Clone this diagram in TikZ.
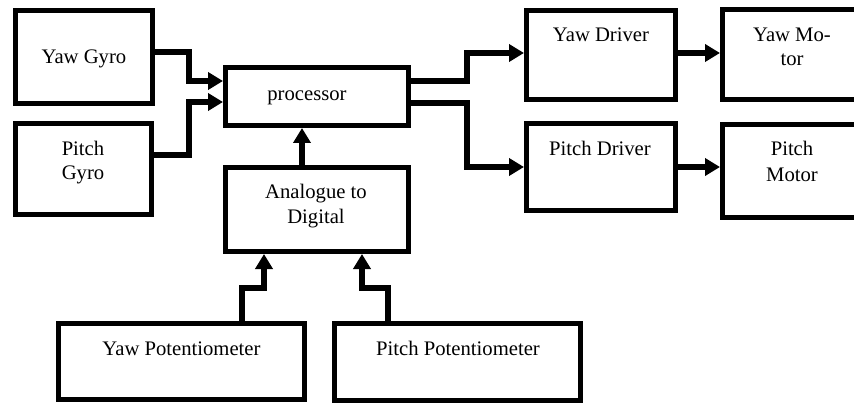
\documentclass[tikz,border=0pt]{standalone}
\usepackage{fontspec}
\setmainfont{Liberation Serif}
\usetikzlibrary{arrows.meta,fit}
\begin{document}
\begin{tikzpicture}[x=0.75pt,y=-0.75pt,
  blk/.style={draw=black,line width=3.75pt,inner sep=0pt,rectangle},
  lbl/.style={anchor=base,inner sep=0pt,font=\fontsize{15.5pt}{18pt}\selectfont},
  arr/.style={line width=3.9pt,-{Triangle[length=11.25pt,width=12.75pt]}}]
\useasboundingbox (0,0) rectangle (854,403);
\fill[white] (0,0) rectangle (854,403);
\clip (0,0) rectangle (854,403);
% boxes
\node[blk,fit={(15.5,11) (152.5,104)}] (yg) {};
\node[blk,fit={(15.5,123.5) (151.5,214.5)}] (pg) {};
\node[blk,fit={(225.5,67.5) (408.5,125.5)}] (proc) {};
\node[blk,fit={(225.5,167.5) (408.5,251.5)}] (ad) {};
\node[blk,fit={(58.5,323.5) (304.5,399.5)}] (ypot) {};
\node[blk,fit={(334.5,323.5) (580.5,400.5)}] (ppot) {};
\node[blk,fit={(526.5,10.5) (675.5,99.5)}] (yd) {};
\node[blk,fit={(526.5,123.5) (675.5,210.5)}] (pd) {};
\node[blk,fit={(722.5,9.5) (862,99.5)}] (ym) {};
\node[blk,fit={(722.5,124.5) (862,217.5)}] (pm) {};
% texts
\node[lbl] (t1) at (84,64) {Yaw Gyro};
\node[lbl] (t2a) at (83,156) {Pitch};
\node[lbl] (t2b) at (83,180) {Gyro};
\node[lbl] (t3) at (307,101) {processor};
\node[lbl] (t4a) at (316,199) {Analogue to};
\node[lbl] (t4b) at (316,223) {Digital};
\node[lbl] (t5) at (181.5,355) {Yaw Potentiometer};
\node[lbl] (t6) at (458,355) {Pitch Potentiometer};
\node[lbl] (t7) at (601,42) {Yaw Driver};
\node[lbl] (t8) at (600,156) {Pitch Driver};
\node[lbl] (t9a) at (792,42) {Yaw Mo-};
\node[lbl] (t9b) at (792,66) {tor};
\node[lbl] (t10a) at (792,156) {Pitch};
\node[lbl] (t10b) at (792,181) {Motor};
% connectors
\draw[arr] (yg.east |- 0,52) -- (189,52) -- (189,81) -- (proc.west |- 0,81);
\draw[arr] (pg.east |- 0,155) -- (189,155) -- (189,102) -- (proc.west |- 0,102);
\draw[arr] (ad.north -| 302,0) -- (proc.south -| 302,0);
\draw[arr] (proc.east |- 0,81) -- (467,81) -- (467,53) -- (yd.west |- 0,53);
\draw[arr] (proc.east |- 0,103) -- (467,103) -- (467,167) -- (pd.west |- 0,167);
\draw[arr] (yd.east |- 0,53) -- (ym.west |- 0,53);
\draw[arr] (pd.east |- 0,167) -- (pm.west |- 0,167);
\draw[arr] (ypot.north -| 242,0) -- (242,288) -- (264,288) -- (ad.south -| 264,0);
\draw[arr] (ppot.north -| 388,0) -- (388,288) -- (362,288) -- (ad.south -| 362,0);
\end{tikzpicture}
\end{document}
